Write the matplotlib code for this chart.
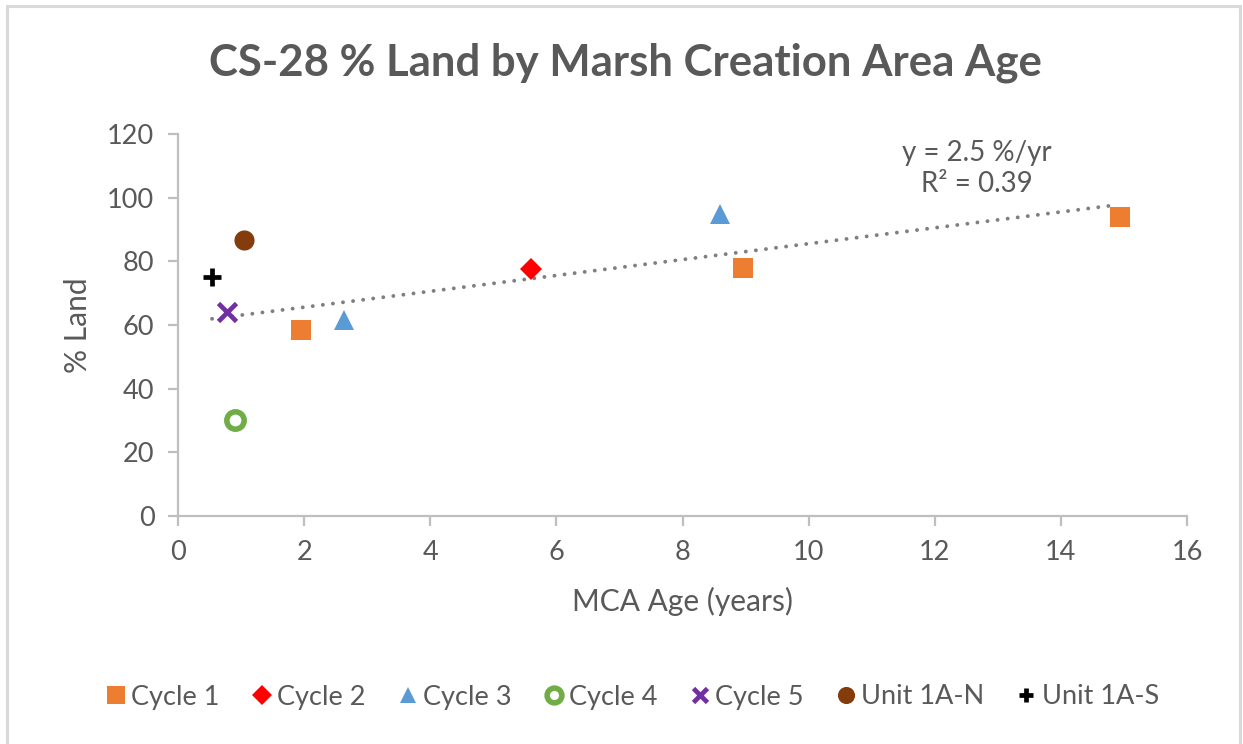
import numpy as np
import matplotlib
matplotlib.use("Agg")
import matplotlib.pyplot as plt
from matplotlib.patches import Rectangle

# ------ data ---------------------------
series_names = ["Cycle 1", "Cycle 2", "Cycle 3", "Cycle 4", "Cycle 5", "Unit 1A-N", "Unit 1A-S"]
age = {
    "Cycle 1": [1.95, 8.96, 14.94],
    "Cycle 2": [5.60],
    "Cycle 3": [2.63, 8.59],
    "Cycle 4": [0.90],
    "Cycle 5": [0.78],
    "Unit 1A-N": [1.05],
    "Unit 1A-S": [0.54],
}
land = {
    "Cycle 1": [58.5, 77.9, 94.0],
    "Cycle 2": [77.6],
    "Cycle 3": [61.6, 94.9],
    "Cycle 4": [30.2],
    "Cycle 5": [64.1],
    "Unit 1A-N": [86.7],
    "Unit 1A-S": [75.1],
}
x_ticks = [0, 2, 4, 6, 8, 10, 12, 14, 16]
y_ticks = [0, 20, 40, 60, 80, 100, 120]

# ------ styles --------
styles = {
    "Cycle 1": dict(marker="s", ms=14.5, color="#ED7D31", mec="#ED7D31", mew=0),
    "Cycle 2": dict(marker="D", ms=11.5, color="#FF0000", mec="#FF0000", mew=0),
    "Cycle 3": dict(marker="^", ms=14, color="#5B9BD5", mec="#5B9BD5", mew=0),
    "Cycle 4": dict(marker="o", ms=12.5, color="white", mec="#70AD47", mew=4.0),
    "Cycle 5": dict(marker="x", ms=12.5, color="#7030A0", mec="#7030A0", mew=3.4),
    "Unit 1A-N": dict(marker="o", ms=14.5, color="#843C0C", mec="#843C0C", mew=0),
    "Unit 1A-S": dict(marker="+", ms=12.5, color="black", mec="black", mew=3.4),
}

text_gray = "#595959"
axis_gray = "#BFBFBF"

plt.rcParams['font.family'] = ['Lato', 'DejaVu Sans']

fig = plt.figure(figsize=(12.43, 7.44), dpi=100)
ax = fig.add_axes([178 / 1243, 1 - 516 / 744, (1187 - 178) / 1243, (516 - 134) / 744])

for name in series_names:
    ax.plot(age[name], land[name], linestyle="none", label=name, **styles[name])

# linear trendline through all points
all_x = np.concatenate([age[n] for n in series_names])
all_y = np.concatenate([land[n] for n in series_names])
slope, intercept = np.polyfit(all_x, all_y, 1)
xs = np.array([all_x.min(), all_x.max() - 0.1])
ax.plot(xs, slope * xs + intercept, color="#7F7F7F", lw=2.8,
        linestyle=(0, (0.01, 2.6)), dash_capstyle="round", zorder=1)

ax.text(0.792, 0.985, "y = 2.5 %/yr\nR² = 0.39", transform=ax.transAxes,
        ha="center", va="top", fontsize=20, color=text_gray, linespacing=1.25)

ax.set_xlim(0, 16)
ax.set_ylim(0, 120)
ax.set_xticks(x_ticks)
ax.set_yticks(y_ticks)
for s in ["top", "right"]:
    ax.spines[s].set_visible(False)
for s in ["left", "bottom"]:
    ax.spines[s].set_color(axis_gray)
    ax.spines[s].set_linewidth(1.6)
ax.tick_params(length=7, width=1.6, color=axis_gray, labelcolor=text_gray,
               labelsize=19.5, pad=10)

ax.set_xlabel("MCA Age (years)", fontsize=21.5, color=text_gray, labelpad=16)
ax.set_ylabel("% Land", fontsize=21.5, color=text_gray, labelpad=11)

fig.text(625 / 1243, 1 - 63 / 744, "CS-28 % Land by Marsh Creation Area Age",
         ha="center", va="center", fontsize=31.5, fontweight="bold", color=text_gray)

leg = fig.legend(loc="center", bbox_to_anchor=(630 / 1243, 1 - 697 / 744), ncol=7,
                 frameon=False, fontsize=19.5, labelcolor=text_gray,
                 handletextpad=0.02, columnspacing=1.0, handlelength=1.1,
                 markerscale=0.85)

# outer chart border
fig.add_artist(Rectangle((6.5 / 1243, -0.01), (1240 - 6.5) / 1243, 1.01 - 5.5 / 744,
                         transform=fig.transFigure, fill=False,
                         edgecolor="#D9D9D9", lw=2.2))

fig.savefig("out.png", dpi=100, facecolor="white")
